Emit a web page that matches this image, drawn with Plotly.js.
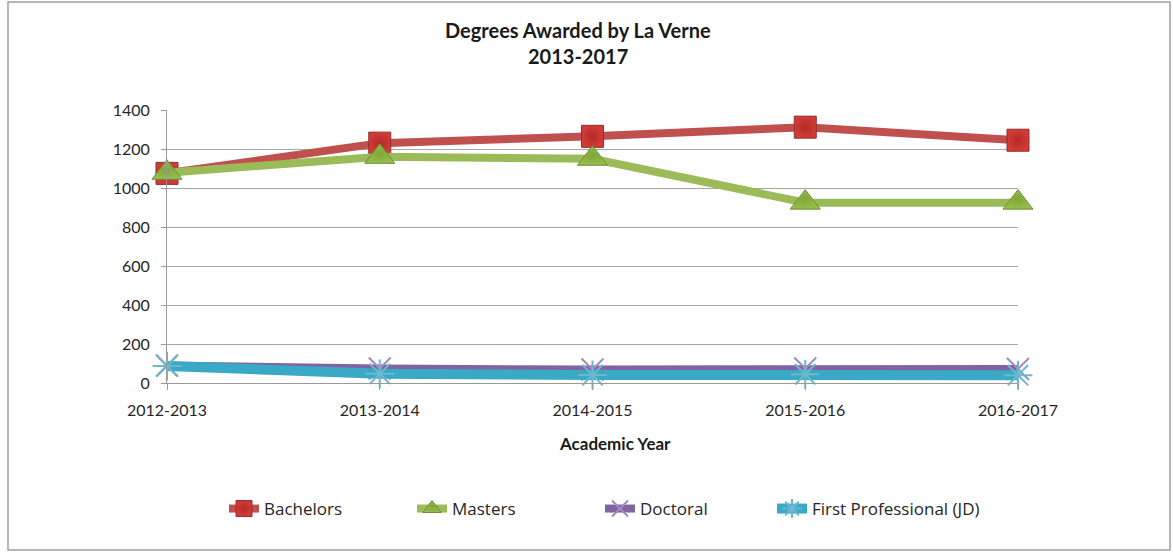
<!DOCTYPE html>
<html>
<head>
<meta charset="utf-8">
<script src="https://cdn.plot.ly/plotly-3.0.1.min.js"></script>
<style>
  html, body { margin: 0; padding: 0; background: #fff; }
  #chart { width: 1173px; height: 552px; }
</style>
</head>
<body>
<div id="chart"></div>
<script>
const years = ["2012-2013", "2013-2014", "2014-2015", "2015-2016", "2016-2017"];
const bachelors = [1075, 1230, 1265, 1312, 1245];
const masters = [1078, 1160, 1150, 925, 925];
const doctoral = [90, 74, 69, 74, 72];
const firstProfessional = [87, 47, 41, 45, 40];
const yTicks = [0, 200, 400, 600, 800, 1000, 1200, 1400];

const W = 1173, H = 552;
const L = 167, R = 1018, T = 110, B = 383;
const pw = R - L, ph = B - T;
const px = v => (v - L) / pw;
const py = v => (B - v) / ph;

const font = "Lato, 'Open Sans', sans-serif";
const legendFont = { family: "'Open Sans', Lato, sans-serif", size: 17, color: "#262626" };

const traces = [
  {
    name: "Bachelors", x: years, y: bachelors, type: "scatter", mode: "lines+markers",
    line: { color: "#C0504D", width: 8 },
    marker: { symbol: "square", size: 22, color: "#D23B37",
              line: { color: "#8E2F2C", width: 1 },
              gradient: { type: "radial", color: "#B22A27" } },
    cliponaxis: false, legend: "legend"
  },
  {
    name: "Masters", x: years, y: masters, type: "scatter", mode: "lines+markers",
    line: { color: "#9BBB59", width: 8 },
    marker: { symbol: "triangle-up", size: 26, color: "#94BE4A",
              line: { color: "#6E8E34", width: 1 },
              gradient: { type: "radial", color: "#7FA63A" } },
    cliponaxis: false, legend: "legend"
  },
  {
    name: "Doctoral", x: years, y: doctoral, type: "scatter", mode: "lines+markers",
    line: { color: "#8064A2", width: 8 },
    marker: { symbol: "x-thin-open", size: 22, color: "#A08BC0",
              line: { color: "#A08BC0", width: 2 } },
    cliponaxis: false, legend: "legend"
  },
  {
    name: "First Professional (JD)", x: years, y: firstProfessional, type: "scatter", mode: "lines+markers",
    line: { color: "#3AA9C6", width: 10 },
    marker: { symbol: "asterisk-open", size: 24, color: "#6CB8CE",
              line: { color: "#6CB8CE", width: 2 } },
    cliponaxis: false, legend: "legend2"
  }
];

const layout = {
  width: W, height: H,
  margin: { l: L, r: W - R, t: T, b: H - B, pad: 0 },
  paper_bgcolor: "#ffffff", plot_bgcolor: "#ffffff",
  font: { family: font, size: 16, color: "#262626" },
  showlegend: true,
  legend: {
    orientation: "h", x: px(224), xanchor: "left", y: py(509), yanchor: "middle",
    entrywidth: 143, entrywidthmode: "pixels", itemwidth: 30,
    font: legendFont, bgcolor: "rgba(0,0,0,0)"
  },
  legend2: {
    orientation: "h", x: px(772), xanchor: "left", y: py(509), yanchor: "middle",
    itemwidth: 30, font: legendFont, bgcolor: "rgba(0,0,0,0)"
  },
  xaxis: {
    type: "category", range: [0, 4], fixedrange: true,
    showgrid: false, zeroline: false,
    showline: true, linecolor: "#999999", linewidth: 1,
    ticks: "outside", ticklen: 6, tickcolor: "#999999", tickwidth: 1,
    tickfont: { family: font, size: 16, color: "#262626" },
    ticklabelstandoff: 7
  },
  yaxis: {
    range: [0, 1400], tickvals: yTicks, ticktext: yTicks.map(String),
    showgrid: true, gridcolor: "#A6A6A6", gridwidth: 1,
    zeroline: false, showline: true, linecolor: "#999999", linewidth: 1,
    ticks: "outside", ticklen: 5, tickcolor: "#999999",
    tickfont: { family: font, size: 16, color: "#262626" },
    ticklabelstandoff: 8
  },
  annotations: [
    { text: "<b>Degrees Awarded by La Verne</b>", xref: "paper", yref: "paper",
      x: px(578), y: py(30), xanchor: "center", yanchor: "middle", showarrow: false,
      font: { family: font, size: 20, color: "#1a1a1a" } },
    { text: "<b>2013-2017</b>", xref: "paper", yref: "paper",
      x: px(578), y: py(56), xanchor: "center", yanchor: "middle", showarrow: false,
      font: { family: font, size: 20, color: "#1a1a1a" } },
    { text: "<b>Academic Year</b>", xref: "paper", yref: "paper",
      x: px(615), y: py(443), xanchor: "center", yanchor: "middle", showarrow: false,
      font: { family: font, size: 17, color: "#1a1a1a" } }
  ],
  shapes: [
    { type: "rect", xref: "paper", yref: "paper",
      x0: px(8), x1: px(1170), y0: py(550), y1: py(2),
      line: { color: "#A0A0A0", width: 1.5 }, fillcolor: "rgba(0,0,0,0)", layer: "below" }
  ]
};

Plotly.newPlot("chart", traces, layout, { displayModeBar: false, staticPlot: true });
</script>
</body>
</html>
